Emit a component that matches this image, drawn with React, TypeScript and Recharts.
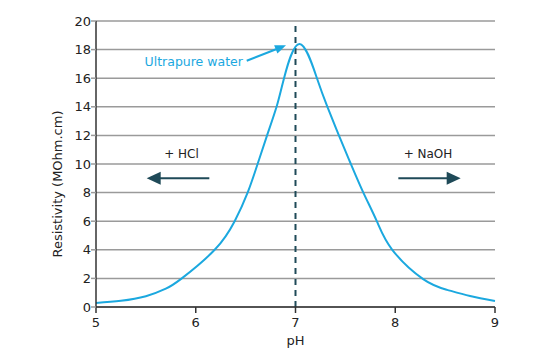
import {
  LineChart,
  Line,
  XAxis,
  YAxis,
  CartesianGrid,
  ReferenceLine,
  ReferenceDot,
} from 'recharts'

// Resistivity of water vs pH
const PH_VALUES = [
  5.0, 5.25, 5.5, 5.7, 5.86, 6.19, 6.39, 6.52, 6.62, 6.715, 6.81, 6.885, 7.04,
  7.215, 7.32, 7.435, 7.555, 7.68, 7.815, 7.97, 8.28, 8.52, 8.75, 9.0,
]
const RESISTIVITY = [
  0.28, 0.43, 0.75, 1.28, 2.0, 4.0, 6.0, 8.0, 10, 12, 14, 16, 18.4,
  16, 14, 12, 10, 8, 6, 4.0, 1.95, 1.2, 0.77, 0.42,
]
const X_TICKS = [5, 6, 7, 8, 9]
const Y_TICKS = [0, 2, 4, 6, 8, 10, 12, 14, 16, 18, 20]

// annotations, in data units
const NEUTRAL_PH = 7
const ACID_ARROW = [{ x: 6.136, y: 9.0 }, { x: 5.508, y: 9.0 }]
const BASE_ARROW = [{ x: 8.031, y: 9.0 }, { x: 8.656, y: 9.0 }]
const PURE_ARROW = [{ x: 6.511, y: 17.22 }, { x: 6.905, y: 18.3 }]
const LABELS = [
  { x: 5.857, y: 10.42, text: '+ HCl', color: '#222', size: 12 },
  { x: 8.328, y: 10.42, text: '+ NaOH', color: '#222', size: 12 },
  { x: 5.98, y: 16.82, text: 'Ultrapure water', color: '#1ba8df', size: 12.5 },
]

const BLUE = '#1ba8df'
const DARK = '#1f4a58'
const FONT = '"DejaVu Sans", sans-serif'

const data = PH_VALUES.map((ph, i) => ({ ph, r: RESISTIVITY[i] }))

// line with a filled arrow head at the second point
const arrowShape = (color: string, width: number, headLen: number, headHalf: number) =>
  (props: any) => {
    const { x1, y1, x2, y2 } = props
    const dx = x2 - x1
    const dy = y2 - y1
    const len = Math.hypot(dx, dy) || 1
    const ux = dx / len
    const uy = dy / len
    const bx = x2 - ux * headLen
    const by = y2 - uy * headLen
    const px = -uy * headHalf
    const py = ux * headHalf
    return (
      <g>
        <line x1={x1} y1={y1} x2={bx + ux} y2={by + uy} stroke={color} strokeWidth={width} />
        <polygon
          points={`${x2},${y2} ${bx + px},${by + py} ${bx - px},${by - py}`}
          fill={color}
        />
      </g>
    )
  }

export default function App() {
  return (
    <div
      style={{
        position: 'absolute',
        left: 0,
        top: 0,
        width: 548,
        height: 358,
        background: '#fff',
        fontFamily: FONT,
      }}
    >
      <LineChart
        width={548}
        height={358}
        data={data}
        margin={{ top: 21, right: 53, bottom: 0, left: 0 }}
        style={{ fontFamily: FONT }}
      >
        <CartesianGrid vertical={false} stroke="#9a9a9a" strokeWidth={1.5} />
        <XAxis
          dataKey="ph"
          type="number"
          domain={[5, 9]}
          ticks={X_TICKS}
          height={51}
          stroke="#333"
          strokeWidth={1.5}
          tickSize={6}
          tickMargin={5}
          tick={{ fill: '#222', fontSize: 13 }}
          label={{ value: 'pH', position: 'insideBottom', offset: 13, fill: '#222', fontSize: 13 }}
        />
        <YAxis
          type="number"
          domain={[0, 20]}
          ticks={Y_TICKS}
          width={96}
          axisLine={{ stroke: '#333', strokeWidth: 1.5 }}
          tickLine={{ stroke: '#9a9a9a', strokeWidth: 1.5 }}
          tickSize={5}
          tickMargin={0}
          tick={{ fill: '#222', fontSize: 13 }}
          label={{
            value: 'Resistivity (MOhm.cm)',
            angle: -90,
            position: 'center',
            dx: 9,
            dy: 20,
            fill: '#222',
            fontSize: 13,
          }}
        />
        <ReferenceLine x={NEUTRAL_PH} stroke={DARK} strokeWidth={2} strokeDasharray="6 5" />
        <Line
          type="natural"
          dataKey="r"
          stroke={BLUE}
          strokeWidth={2}
          dot={false}
          activeDot={false}
          isAnimationActive={false}
        />
        <ReferenceLine segment={ACID_ARROW} shape={arrowShape(DARK, 2, 14, 6.5)} />
        <ReferenceLine segment={BASE_ARROW} shape={arrowShape(DARK, 2, 14, 6.5)} />
        <ReferenceLine segment={PURE_ARROW} shape={arrowShape(BLUE, 2, 11, 4.5)} />
        {LABELS.map((l) => (
          <ReferenceDot
            key={l.text}
            x={l.x}
            y={l.y}
            r={0}
            shape={(p: any) => (
              <text
                x={p.cx}
                y={p.cy}
                textAnchor="middle"
                fill={l.color}
                fontSize={l.size}
                fontFamily={FONT}
              >
                {l.text}
              </text>
            )}
          />
        ))}
      </LineChart>
    </div>
  )
}
